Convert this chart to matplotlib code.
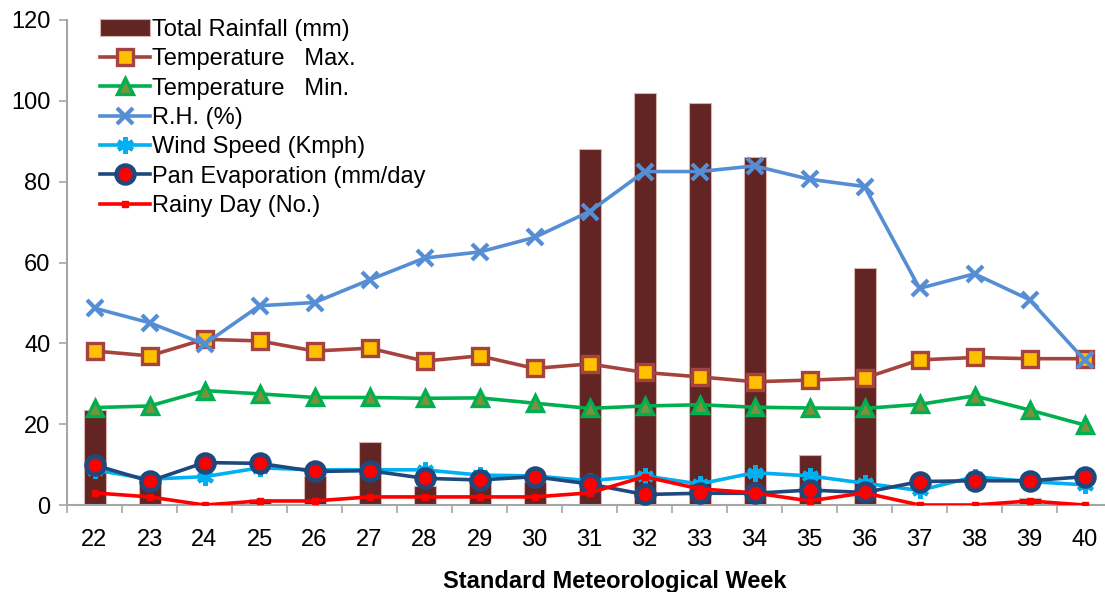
import matplotlib.pyplot as plt
import numpy as np

plt.rcParams['font.family'] = ['Liberation Sans', 'DejaVu Sans']

weeks = ['22', '23', '24', '25', '26', '27', '28', '29', '30', '31',
         '32', '33', '34', '35', '36', '37', '38', '39', '40']

rainfall = [23.5, 5.8, 0, 1.5, 7.2, 15.7, 4.8, 6.2, 5.8, 88.0,
            102.0, 99.5, 86.2, 12.4, 58.7, 0, 0, 1.8, 0]
temp_max = [38.1, 36.9, 41.0, 40.6, 38.1, 38.8, 35.6, 36.9, 33.8, 34.9,
            32.8, 31.7, 30.5, 30.9, 31.4, 35.9, 36.5, 36.2, 36.2]
temp_min = [24.1, 24.5, 28.3, 27.5, 26.6, 26.6, 26.4, 26.5, 25.2, 23.9,
            24.5, 24.8, 24.2, 24.0, 23.9, 24.9, 27.0, 23.5, 19.8]
rh = [48.7, 45.1, 39.8, 49.3, 50.1, 55.7, 61.1, 62.6, 66.2, 72.6,
      82.5, 82.5, 83.9, 80.6, 78.8, 53.6, 57.2, 50.8, 35.9]
wind_speed = [8.7, 6.4, 7.0, 9.2, 8.7, 8.7, 8.7, 7.4, 7.2, 6.0,
              7.2, 5.2, 8.0, 7.2, 5.4, 3.6, 7.0, 5.8, 5.0]
pan_evap = [9.9, 5.9, 10.5, 10.3, 8.3, 8.5, 6.6, 6.2, 7.0, 5.2,
            2.6, 2.9, 2.9, 3.7, 3.1, 5.8, 6.0, 6.0, 7.0]
rainy_days = [3, 2, 0, 1, 1, 2, 2, 2, 2, 3,
              7, 4, 3, 1, 3, 0, 0, 1, 0]

x = np.arange(len(weeks))

fig = plt.figure(figsize=(11.05, 5.92), dpi=100)
ax = fig.add_axes([67 / 1105, 87 / 592, 1045 / 1105, 485 / 592])

bars = ax.bar(x, rainfall, width=0.4, color='#632523', edgecolor='#D9B3B0',
              linewidth=0.8, label='Total Rainfall (mm)', zorder=1)

lw = 2.6
lines = []
lines += ax.plot(x, temp_max, color='#A5433F', lw=lw, marker='s', ms=11,
                 mfc='#FFC000', mec='#A5433F', mew=2.4,
                 label='Temperature   Max.', zorder=3)
lines += ax.plot(x, temp_min, color='#00B050', lw=lw, marker='^', ms=12,
                 mfc='#77933C', mec='#00B050', mew=2.4,
                 label='Temperature   Min.', zorder=3)
lines += ax.plot(x, rh, color='#558ED5', lw=lw, marker='x', ms=12, mew=3,
                 label='R.H. (%)', zorder=3)
lines += ax.plot(x, wind_speed, color='#00B0F0', lw=lw, marker=(6, 2, 0),
                 ms=12, mew=3, label='Wind Speed (Kmph)', zorder=3)
lines += ax.plot(x, pan_evap, color='#1F497D', lw=lw, marker='o', ms=13,
                 mfc='#FF0000', mec='#1F497D', mew=3.2,
                 label='Pan Evaporation (mm/day', zorder=4)
lines += ax.plot(x, rainy_days, color='#FF0000', lw=lw, marker='s', ms=5,
                 label='Rainy Day (No.)', zorder=5)

ax.set_xlim(-0.5, len(weeks) - 0.5)
ax.set_ylim(0, 120)
ax.set_yticks(np.arange(0, 121, 20))
ax.set_xticks(x)
ax.set_xticklabels(weeks)
ax.set_xticks(np.arange(-0.5, len(weeks), 1), minor=True)

for side in ['top', 'right']:
    ax.spines[side].set_visible(False)
for side in ['left', 'bottom']:
    ax.spines[side].set_color('#A6A6A6')
    ax.spines[side].set_linewidth(1.5)

ax.tick_params(axis='y', which='major', length=6, width=1.2, color='#A6A6A6',
               labelsize=17, pad=6)
ax.tick_params(axis='x', which='major', length=0, labelsize=17, pad=17)
ax.tick_params(axis='x', which='minor', length=6, width=1.2, color='#A6A6A6')

ax.set_xlabel('Standard Meteorological Week', fontsize=17, fontweight='bold')
ax.xaxis.set_label_coords(0.524, -0.133)

handles = [bars] + lines
fig.legend(handles, [h.get_label() for h in handles], loc='upper left',
           bbox_to_anchor=(100 / 1105, 1 - 19 / 592), frameon=False,
           fontsize=17, handlelength=2.1, handletextpad=0.1,
           labelspacing=0.31, borderpad=0, borderaxespad=0)

plt.savefig('out.png', dpi=100)
